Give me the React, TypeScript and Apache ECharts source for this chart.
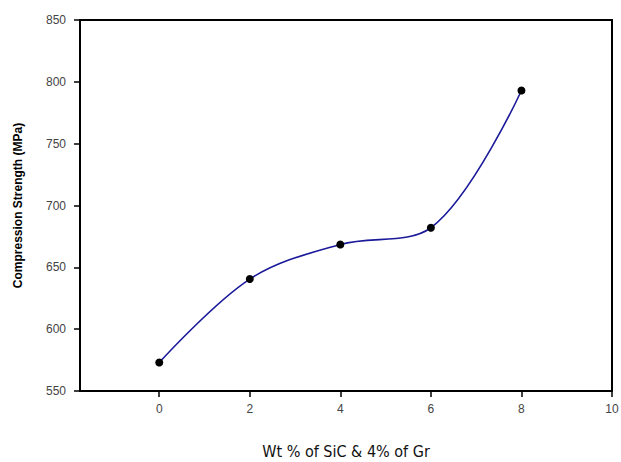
import React, { useEffect, useRef } from "react";
import * as echarts from "echarts";

const wtPercent = [0, 2, 4, 6, 8];
const strength = [573, 640.5, 668.5, 682, 793];
const xTicks = [0, 2, 4, 6, 8, 10];

export default function App() {
  const ref = useRef<HTMLDivElement>(null);
  useEffect(() => {
    const chart = echarts.init(ref.current!, null, { renderer: "svg" });
    chart.setOption({
      animation: false,
      backgroundColor: "#ffffff",
      grid: {
        left: 80,
        right: 9,
        top: 20,
        bottom: 71,
        show: true,
        borderColor: "#000",
        borderWidth: 2,
        outerBoundsMode: "none",
        containLabel: false,
      },
      xAxis: {
        type: "value",
        min: -1.75,
        max: 10,
        name: "Wt % of SiC & 4% of Gr",
        nameLocation: "middle",
        nameGap: 52,
        nameTextStyle: {
          fontFamily: "'Liberation Sans Narrow', 'DejaVu Sans Condensed', 'Noto Sans', sans-serif",
          fontSize: 16,
          color: "#111",
        },
        splitLine: { show: false },
        axisLine: { show: true, onZero: false, lineStyle: { color: "#000", width: 2 } },
        axisTick: {
          show: true,
          length: 6,
          customValues: xTicks,
          lineStyle: { color: "#000", width: 1.5 },
        },
        axisLabel: {
          customValues: xTicks,
          margin: 12,
          fontFamily: "Arial, 'Liberation Sans', sans-serif",
          fontSize: 12,
          color: "#444",
        },
      },
      yAxis: {
        type: "value",
        min: 550,
        max: 850,
        interval: 50,
        name: "Compression Strength (MPa)",
        nameLocation: "middle",
        nameGap: 56,
        nameTextStyle: {
          fontFamily: "Arial, 'Liberation Sans', sans-serif",
          fontSize: 12,
          fontWeight: "bold",
          color: "#000",
        },
        splitLine: { show: false },
        axisLine: { show: true, onZero: false, lineStyle: { color: "#000", width: 2 } },
        axisTick: { show: true, length: 6, lineStyle: { color: "#000", width: 1.5 } },
        axisLabel: {
          margin: 14,
          fontFamily: "Arial, 'Liberation Sans', sans-serif",
          fontSize: 12,
          color: "#444",
        },
      },
      series: [
        {
          type: "line",
          data: wtPercent.map((x, i) => [x, strength[i]]),
          smooth: 0.35,
          symbol: "circle",
          symbolSize: 8,
          itemStyle: { color: "#000" },
          lineStyle: { color: "#1a1a9a", width: 1.6 },
        },
      ],
    });
    return () => chart.dispose();
  }, []);
  return (
    <div
      ref={ref}
      style={{ position: "absolute", left: 0, top: 0, width: 621, height: 462 }}
    />
  );
}
